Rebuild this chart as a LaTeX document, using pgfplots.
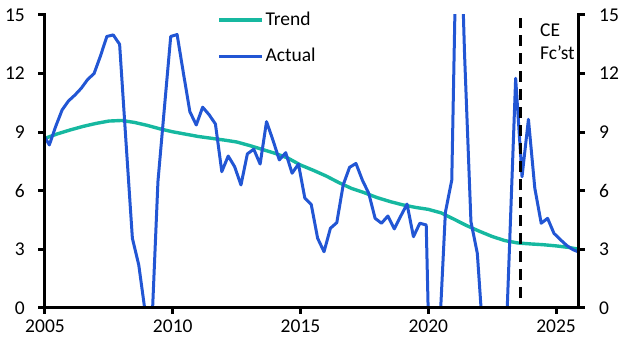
\documentclass[border=0pt]{standalone}
\usepackage{fontspec}
\setmainfont{Carlito}
\usepackage{pgfplots}
\usepackage{pgfplotstable}
\pgfplotsset{compat=1.18}
\definecolor{trendc}{RGB}{22,184,160}
\definecolor{actc}{RGB}{34,86,212}
\pgfplotstableread{
x v
2004.92 8.9
2005.17 8.35
2005.42 9.3
2005.67 10.14
2005.92 10.6
2006.17 10.9
2006.42 11.25
2006.67 11.7
2006.92 12.0
2007.17 12.9
2007.42 13.9
2007.67 13.98
2007.92 13.5
2008.17 8.5
2008.42 3.57
2008.67 2.2
2008.92 -0.2
2009.17 -1.3
2009.42 6.47
2009.67 10.2
2009.92 13.9
2010.17 14.0
2010.42 12.0
2010.67 10.05
2010.92 9.37
2011.17 10.28
2011.42 9.9
2011.67 9.42
2011.92 6.98
2012.17 7.78
2012.42 7.24
2012.67 6.3
2012.92 7.89
2013.17 8.13
2013.42 7.37
2013.67 9.54
2013.92 8.6
2014.17 7.58
2014.42 7.95
2014.67 6.9
2014.92 7.37
2015.17 5.62
2015.42 5.3
2015.67 3.57
2015.92 2.88
2016.17 4.08
2016.42 4.37
2016.67 6.3
2016.92 7.2
2017.17 7.4
2017.42 6.55
2017.67 5.87
2017.92 4.59
2018.17 4.34
2018.42 4.71
2018.67 4.05
2018.92 4.7
2019.17 5.32
2019.42 3.65
2019.67 4.34
2019.92 4.25
2020.17 -10
2020.42 -1.8
2020.67 4.9
2020.92 6.55
2021.17 24
2021.42 13
2021.67 4.42
2021.92 2.8
2022.17 -2
2022.42 -5
2022.67 -6
2022.92 -6
2023.17 2.8
2023.42 11.76
2023.67 6.72
2023.92 9.66
2024.17 6.13
2024.42 4.34
2024.67 4.59
2024.92 3.82
2025.17 3.5
2025.42 3.2
2025.67 2.98
2025.92 2.85
}\actual
\pgfplotstableread{
x v
2004.92 8.65
2005.5 8.92
2006.0 9.12
2006.5 9.3
2007.0 9.45
2007.5 9.57
2008.0 9.6
2008.5 9.5
2009.0 9.35
2009.5 9.17
2010.0 9.02
2010.5 8.9
2011.0 8.78
2011.5 8.69
2012.0 8.6
2012.5 8.5
2013.0 8.32
2013.5 8.12
2014.0 7.92
2014.5 7.68
2015.0 7.32
2015.5 7.05
2016.0 6.76
2016.5 6.42
2017.0 6.12
2017.5 5.9
2018.0 5.65
2018.5 5.45
2019.0 5.28
2019.5 5.15
2020.0 5.05
2020.5 4.87
2021.0 4.55
2021.5 4.22
2022.0 3.93
2022.5 3.66
2023.0 3.45
2023.5 3.33
2024.0 3.28
2024.5 3.24
2025.0 3.18
2025.5 3.1
2025.92 3.0
}\trend
\pgfplotsset{
  common/.style={
    at={(0pt,0pt)}, anchor=south west,
    scale only axis, width=533pt, height=293pt,
    xmin=2005, xmax=2025.86, ymin=0, ymax=15,
    ytick={0,3,...,15},
    axis line style={draw=none},
    tick align=outside,
    major tick length=5.5pt,
    every tick/.style={line width=3pt, black},
    /pgf/number format/assume math mode=true,
    tick label style={font=\fontsize{19.5}{23}\selectfont},
    clip mode=individual,
  }
}
\begin{document}
\fontsize{19.5}{23}\selectfont
\begin{tikzpicture}
\path[use as bounding box] (-45pt,-45pt) rectangle (582pt,308pt);
\begin{axis}[common,
  xtick pos=lower, ytick pos=left,
  xtick={2005,2010,2015,2020,2025},
  xticklabel style={/pgf/number format/.cd, 1000 sep={}},
  yticklabel style={xshift=-8pt},
  legend style={at={(axis cs:2011.75,15.26)}, anchor=north west, draw=none, fill=none,
    inner sep=0pt, row sep=17pt, nodes={inner sep=1.5pt, anchor=west},
    font=\fontsize{19.5}{23}\selectfont},
  legend cell align=left,
  legend image code/.code={\draw[#1] (0pt,0pt) -- (43pt,0pt);},
]
\addplot[trendc, line width=3.4pt, line join=round] table[x=x, y=v] {\trend};
\addlegendentry{Trend}
\addplot[actc, line width=3pt, line join=round] table[x=x, y=v] {\actual};
\addlegendentry{Actual}
\addplot[black, line width=3pt, dash pattern=on 11pt off 7pt, forget plot] coordinates {(2023.62,0.5) (2023.62,14.85)};
\pgfplotsinvokeforeach{0,3,6,9,12,15}{
  \coordinate (L#1) at (axis cs:2005,#1);
  \coordinate (R#1) at (axis cs:2025.86,#1);
}
\pgfplotsinvokeforeach{2005,2010,2015,2020,2025}{
  \coordinate (B#1) at (axis cs:#1,0);
}
\coordinate (TL) at (rel axis cs:0,1);
\coordinate (BL) at (rel axis cs:0,0);
\coordinate (BR) at (rel axis cs:1,0);
\coordinate (TR) at (rel axis cs:1,1);
\node[anchor=base west, inner sep=0pt] at (axis cs:2024.37,13.89) {CE};
\node[anchor=base west, inner sep=0pt] at (axis cs:2024.37,12.70) {Fc'st};
\end{axis}
\begin{axis}[common,
  xtick=\empty, ytick pos=right, yticklabel pos=right,
  yticklabel style={xshift=9pt},
]
\addplot[draw=none] coordinates {(2010,5)};
\end{axis}
\draw[black, line width=3pt, line cap=rect] (TL) -- (BL) -- (BR) -- (TR);
\foreach \v in {0,3,6,9,12,15} {
  \draw[black, line width=3pt] (L\v) -- ++(-6.5pt,0pt);
  \draw[black, line width=3pt] (R\v) -- ++(6.5pt,0pt);
}
\foreach \v in {2005,2010,2015,2020,2025} {
  \draw[black, line width=3pt] (B\v) -- ++(0pt,-6.5pt);
}
\end{tikzpicture}
\end{document}
